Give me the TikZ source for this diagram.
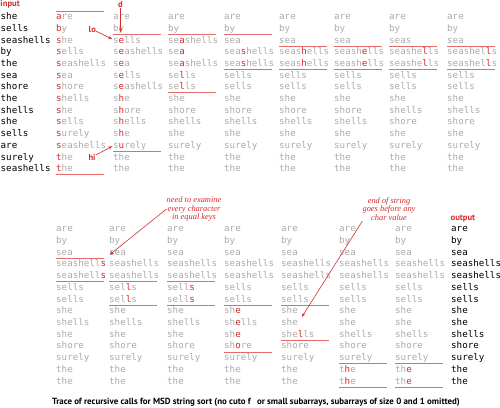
\documentclass[tikz,border=0pt]{standalone}
\usepackage{fontspec}
\newfontfamily\wordfont{DejaVu Sans Mono}
\newfontfamily\tagfont{PT Sans}
\newfontfamily\notefont{Liberation Serif}
\usepackage{xcolor}
\definecolor{keyRed}  {HTML}{D42B2B}
\definecolor{lineRed} {HTML}{E46B6B}
\definecolor{wordGray}{HTML}{ABABAB}
\usepackage{tikz}
\usetikzlibrary{arrows.meta, calc}
\newcommand\kc[1]{\textcolor{keyRed}{#1}}
\newcommand\wordcol[5]{%
  \foreach \w [count=\i] in {#5}
    \node[#1] (#2-\i) at (#3, {#4+11.71*(\i-1)}) {\w};}
\tikzset{
  word/.style    = {anchor=base west, inner sep=0pt, text=wordGray,
                    font=\wordfont\fontsize{9.2}{11}\selectfont},
  inword/.style  = {word, text=black},
  tag/.style     = {inner sep=0pt, text=keyRed,
                    font=\tagfont\bfseries\fontsize{8.6}{10}\selectfont},
  note/.style    = {inner sep=0pt, text=keyRed, align=center,
                    font=\notefont\itshape\fontsize{8.4}{8.9}\selectfont},
  caption/.style = {anchor=base, inner sep=0pt,
                    font=\tagfont\bfseries\fontsize{8.9}{10}\selectfont},
  sub/.style     = {draw=lineRed, line width=0.8pt},
  arr/.style     = {-{Stealth[length=4pt, width=3pt]}, draw=keyRed,
                    line width=0.6pt, shorten >=0.8pt},
}

\begin{document}
\begin{tikzpicture}[x=1pt, y=-1pt]
  \useasboundingbox (0,0) rectangle (500,407);

  % top half: first calls
  \node[tag, anchor=base west] (input) at (0.3, 6.8) {input};
  \wordcol{inword}{in}{0.5}{19.6}{she, sells, seashells, by, the, sea, shore,
    the, shells, she, sells, are, surely, seashells}
  \wordcol{word}{t1}{56}{19.6}{\kc{a}re, \kc{b}y, \kc{s}he, \kc{s}ells,
    \kc{s}eashells, \kc{s}ea, \kc{s}hore, \kc{s}hells, \kc{s}he, \kc{s}ells,
    \kc{s}urely, \kc{s}eashells, \kc{t}he, \kc{t}he}
  \wordcol{word}{t2}{113}{19.6}{are, by, s\kc{e}lls, s\kc{e}ashells, s\kc{e}a,
    s\kc{e}lls, s\kc{e}ashells, s\kc{h}e, s\kc{h}ore, s\kc{h}ells, s\kc{h}e,
    s\kc{u}rely, the, the}
  \wordcol{word}{t3}{168}{19.6}{are, by, se\kc{a}shells, se\kc{a},
    se\kc{a}shells, se\kc{l}ls, se\kc{l}ls, she, shore, shells, she, surely,
    the, the}
  \wordcol{word}{t4}{224}{19.6}{are, by, sea, sea\kc{s}hells, sea\kc{s}hells,
    sells, sells, she, shore, shells, she, surely, the, the}
  \wordcol{word}{t5}{279}{19.6}{are, by, sea, seas\kc{h}ells, seas\kc{h}ells,
    sells, sells, she, shore, shells, she, surely, the, the}
  \wordcol{word}{t6}{334}{19.6}{are, by, sea, seash\kc{e}lls, seash\kc{e}lls,
    sells, sells, she, shore, shells, she, surely, the, the}
  \wordcol{word}{t7}{389}{19.6}{are, by, seas, seashe\kc{l}ls, seashe\kc{l}ls,
    sells, sells, she, shells, shore, she, surely, the, the}
  \wordcol{word}{t8}{447}{19.6}{are, by, sea, seashel\kc{l}s, seashel\kc{l}s,
    sells, sells, she, shells, shore, she, surely, the, the}

  % bottom half: later calls
  \wordcol{word}{b1}{56}{231.8}{are, by, sea, seashell\kc{s}, seashell\kc{s},
    sells, sells, she, shells, she, shore, surely, the, the}
  \wordcol{word}{b2}{109}{231.8}{are, by, sea, seashells, seashells,
    sel\kc{l}s, sel\kc{l}s, she, shells, she, shore, surely, the, the}
  \wordcol{word}{b3}{167}{231.8}{are, by, sea, seashells, seashells,
    sell\kc{s}, sell\kc{s}, she, shells, she, shore, surely, the, the}
  \wordcol{word}{b4}{224}{231.8}{are, by, sea, seashells, seashells, sells,
    sells, sh\kc{e}, sh\kc{e}lls, sh\kc{e}, sh\kc{o}re, surely, the, the}
  \wordcol{word}{b5}{281}{231.8}{are, by, sea, seashells, seashells, sells,
    sells, she, she, she\kc{l}ls, shore, surely, the, the}
  \wordcol{word}{b6}{339}{231.8}{are, by, sea, seashells, seashells, sells,
    sells, she, she, shells, shore, surely, t\kc{h}e, t\kc{h}e}
  \wordcol{word}{b7}{395}{231.8}{are, by, sea, seashells, seashells, sells,
    sells, she, she, shells, shore, surely, th\kc{e}, th\kc{e}}
  \node[tag, anchor=base west] (output) at (450.5, 220) {output};
  \wordcol{inword}{out}{451}{231.8}{are, by, sea, seashells, seashells, sells,
    sells, she, she, shells, shore, surely, the, the}

  % subarray bounds
  \draw[sub] ($(t1-1.base west)+(0,-8.6)$) -- ++(48,0);
  \foreach \cn/\rn in {t1/14, t2/2, t2/12, t3/2, t3/7, t4/2, t4/5, t5/3, t5/5,
      t6/3, t6/5, t7/3, t7/5, t8/3, t8/5, b1/3, b1/5, b2/5, b2/7, b3/5, b3/7,
      b4/7, b4/11, b5/7, b5/10, b6/12, b6/14, b7/12, b7/14}
    \draw[sub] ($(\cn-\rn.base west)+(0,3)$) -- ++(48,0);

  % pointers
  \node[tag] (d)  at (120.5, 4.3)  {d};
  \node[tag] (lo) at (92.3, 29.2)  {lo};
  \node[tag] (hi) at (92, 157)     {hi};
  \coordinate (dTip) at (120.5, 33);
  \draw[arr] (d)  -- (dTip);
  \draw[arr] (lo) -- (t2-3.west);
  \draw[arr] (hi) -- (t2-12.west);

  \node[note] (noteEq)  at (194, 209) {need to examine\\every character\\in equal keys};
  \node[note] (noteEos) at (389, 209) {end of string\\goes before any\\char value};
  \coordinate (eosTip) at (301.5, 317.5);
  \draw[arr] (noteEq.west) -- (b2-3.base west);
  \draw[arr] (noteEos.south west) -- (eosTip);

  \node[caption] (caption) at (256, 404.3)
    {Trace of recursive calls for MSD string sort (no cuto f\hspace{0.7em}or small subarrays, subarrays of size 0 and 1 omitted)};
\end{tikzpicture}
\end{document}
